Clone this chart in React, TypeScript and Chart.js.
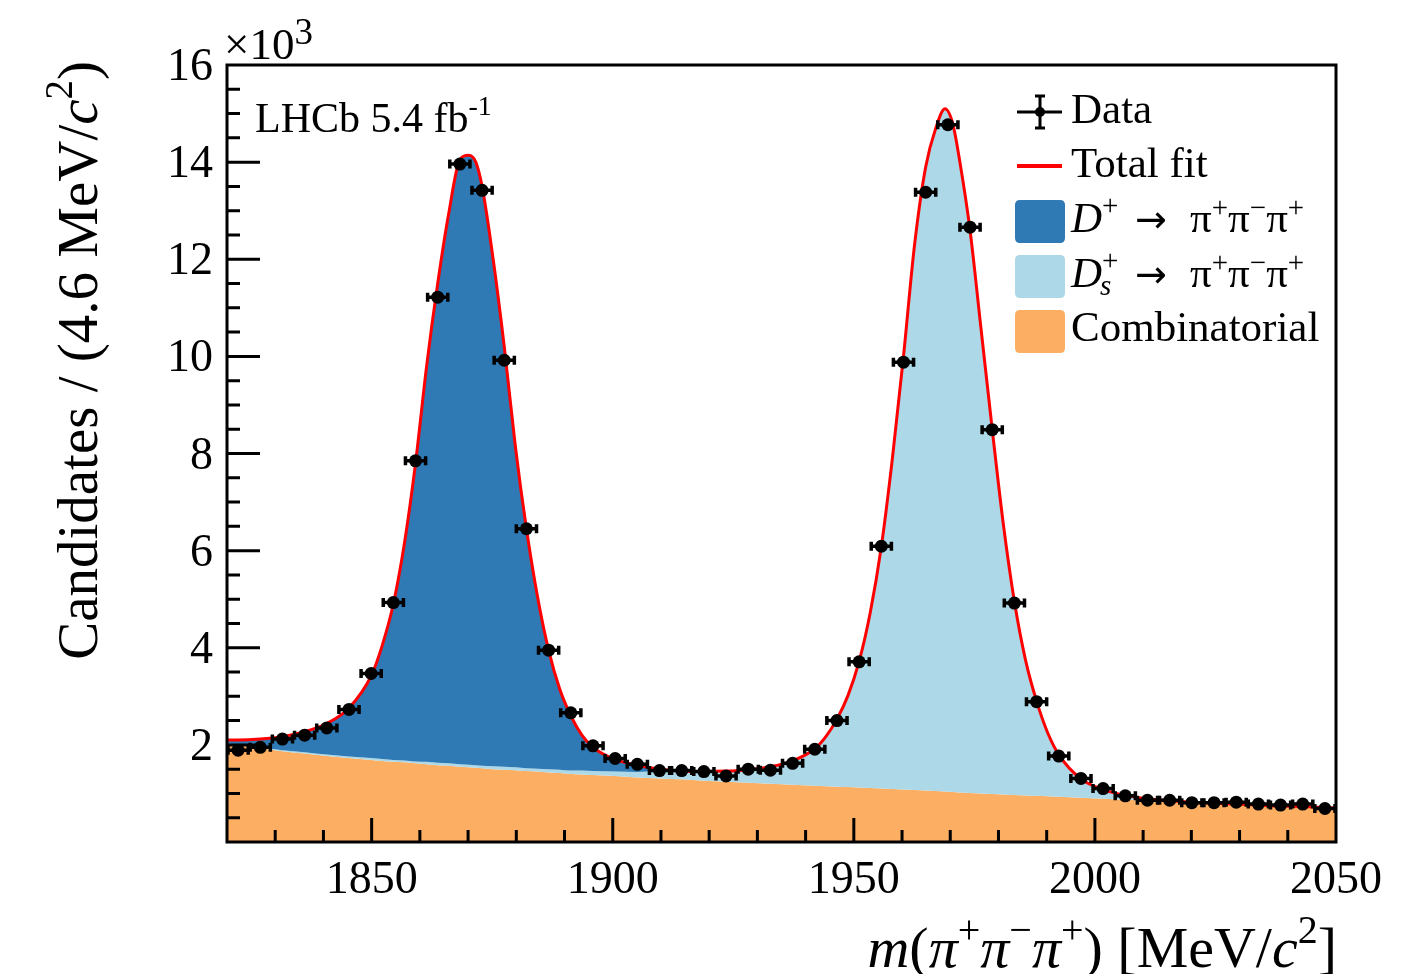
import React, { useEffect, useRef } from "react";
import { Chart, registerables } from "chart.js";

Chart.register(...registerables);

// Histogram bins of m(π+π−π+), 4.6 MeV/c² wide, from 1820 to 2050 MeV/c²
const binWidth = 4.6;
const binCenters = [
  1822.3, 1826.9, 1831.5, 1836.1, 1840.7, 1845.3, 1849.9, 1854.5, 1859.1, 1863.7,
  1868.3, 1872.9, 1877.5, 1882.1, 1886.7, 1891.3, 1895.9, 1900.5, 1905.1, 1909.7,
  1914.3, 1918.9, 1923.5, 1928.1, 1932.7, 1937.3, 1941.9, 1946.5, 1951.1, 1955.7,
  1960.3, 1964.9, 1969.5, 1974.1, 1978.7, 1983.3, 1987.9, 1992.5, 1997.1, 2001.7,
  2006.3, 2010.9, 2015.5, 2020.1, 2024.7, 2029.3, 2033.9, 2038.5, 2043.1, 2047.7,
];
// Candidates per bin, in units of 10^3
const candidates = [
  1.89, 1.95, 2.12, 2.2, 2.35, 2.73, 3.47, 4.93, 7.85, 11.22,
  13.96, 13.42, 9.92, 6.45, 3.95, 2.66, 1.98, 1.72, 1.6, 1.47,
  1.47, 1.45, 1.36, 1.5, 1.48, 1.62, 1.91, 2.5, 3.71, 6.09,
  9.88, 13.38, 14.77, 12.66, 8.49, 4.92, 2.89, 1.77, 1.31, 1.1,
  0.95, 0.86, 0.86, 0.81, 0.81, 0.82, 0.78, 0.76, 0.78, 0.69,
];

// Fit curves sampled along the mass axis (units of 10^3 per bin)
const fitMass = [
  1820.0, 1822.3, 1826.9, 1831.5, 1836.1, 1840.7, 1845.3, 1849.9, 1852.2, 1854.5,
  1856.8, 1859.1, 1861.4, 1863.7, 1866.0, 1868.3, 1870.1, 1871.6, 1872.9, 1875.2,
  1877.5, 1879.8, 1882.1, 1884.4, 1886.7, 1889.0, 1891.3, 1893.6, 1895.9, 1900.5,
  1905.1, 1909.7, 1914.3, 1918.9, 1923.5, 1928.1, 1932.7, 1937.3, 1941.9, 1944.2,
  1946.5, 1948.8, 1951.1, 1953.4, 1955.7, 1958.0, 1960.3, 1962.6, 1964.9, 1967.0,
  1968.9, 1970.5, 1972.0, 1974.1, 1976.4, 1978.7, 1981.0, 1983.3, 1985.6, 1987.9,
  1990.2, 1992.5, 1997.1, 2001.7, 2006.3, 2010.9, 2015.5, 2020.1, 2024.7, 2029.3,
  2033.9, 2038.5, 2043.1, 2047.7, 2050.0,
];
const fitTotal = [
  2.1, 2.1, 2.12, 2.17, 2.27, 2.44, 2.76, 3.42, 4.05, 4.9,
  6.15, 7.8, 9.8, 11.5, 12.95, 14.05, 14.14, 14.0, 13.5, 12.0,
  10.2, 8.15, 6.45, 5.05, 3.95, 3.15, 2.6, 2.2, 1.95, 1.7,
  1.58, 1.5, 1.46, 1.45, 1.46, 1.49, 1.55, 1.67, 1.92, 2.17,
  2.53, 3.02, 3.72, 4.72, 6.08, 7.9, 10.0, 12.3, 13.9, 14.7,
  15.1, 14.8, 14.0, 12.6, 10.55, 8.5, 6.55, 4.95, 3.75, 2.9,
  2.25, 1.8, 1.3, 1.08, 0.96, 0.89, 0.85, 0.82, 0.8, 0.78,
  0.76, 0.74, 0.73, 0.71, 0.7,
];
const fitCombinatorial = [
  2.02, 1.99, 1.93, 1.87, 1.82, 1.77, 1.73, 1.69, 1.67, 1.65,
  1.64, 1.62, 1.6, 1.58, 1.57, 1.55, 1.54, 1.53, 1.52, 1.5,
  1.49, 1.48, 1.46, 1.45, 1.43, 1.42, 1.4, 1.39, 1.38, 1.36,
  1.33, 1.31, 1.29, 1.26, 1.24, 1.22, 1.2, 1.18, 1.16, 1.15,
  1.14, 1.13, 1.12, 1.11, 1.1, 1.09, 1.08, 1.07, 1.06, 1.05,
  1.04, 1.03, 1.02, 1.01, 1.0, 0.99, 0.98, 0.97, 0.96, 0.95,
  0.94, 0.93, 0.91, 0.89, 0.87, 0.85, 0.83, 0.81, 0.79, 0.77,
  0.75, 0.73, 0.72, 0.7, 0.69,
];
const fitDs = [
  0.01, 0.01, 0.02, 0.02, 0.03, 0.03, 0.03, 0.04, 0.04, 0.04,
  0.04, 0.04, 0.05, 0.05, 0.05, 0.05, 0.05, 0.05, 0.05, 0.06,
  0.06, 0.06, 0.06, 0.06, 0.07, 0.07, 0.07, 0.08, 0.08, 0.09,
  0.11, 0.15, 0.17, 0.19, 0.22, 0.27, 0.35, 0.49, 0.76, 1.02,
  1.39, 1.89, 2.6, 3.61, 4.98, 6.81, 8.92, 11.23, 12.84, 13.65,
  14.06, 13.77, 12.98, 11.59, 9.55, 7.51, 5.57, 3.98, 2.79, 1.95,
  1.31, 0.87, 0.39, 0.19, 0.09, 0.04, 0.02, 0.01, 0.01, 0.01,
  0.01, 0.01, 0.01, 0.01, 0.01,
];

const xTickLabels = ["1850", "1900", "1950", "2000", "2050"];
const yTickLabels = ["2", "4", "6", "8", "10", "12", "14", "16"];

const X_MIN = 1820;
const X_MAX = 2050;
const Y_MAX = 16;

const SERIF = '"Liberation Serif", "Times New Roman", serif';
const ARROW_FONT = '"DejaVu Sans", sans-serif';
const COLOR_DPLUS = "#2f7ab5";
const COLOR_DS = "#acd8e7";
const COLOR_COMB = "#fcae62";
const COLOR_FIT = "#ff0000";

type Run = { t: string; size: number; italic?: boolean; dy?: number; dx?: number; family?: string };

function fontOf(r: Run) {
  return `${r.italic ? "italic " : ""}${r.size}px ${r.family ?? SERIF}`;
}

function runsWidth(ctx: CanvasRenderingContext2D, runs: Run[]) {
  let w = 0;
  for (const r of runs) {
    ctx.font = fontOf(r);
    w += (r.dx ?? 0) + ctx.measureText(r.t).width;
  }
  return w;
}

function drawRuns(ctx: CanvasRenderingContext2D, x: number, y: number, runs: Run[]) {
  let cx = x;
  for (const r of runs) {
    ctx.font = fontOf(r);
    cx += r.dx ?? 0;
    ctx.fillText(r.t, cx, y + (r.dy ?? 0));
    cx += ctx.measureText(r.t).width;
  }
  return cx;
}

function roundedBox(ctx: CanvasRenderingContext2D, x: number, y: number, w: number, h: number, r: number, color: string) {
  ctx.beginPath();
  ctx.moveTo(x + r, y);
  ctx.lineTo(x + w - r, y);
  ctx.quadraticCurveTo(x + w, y, x + w, y + r);
  ctx.lineTo(x + w, y + h - r);
  ctx.quadraticCurveTo(x + w, y + h, x + w - r, y + h);
  ctx.lineTo(x + r, y + h);
  ctx.quadraticCurveTo(x, y + h, x, y + h - r);
  ctx.lineTo(x, y + r);
  ctx.quadraticCurveTo(x, y, x + r, y);
  ctx.closePath();
  ctx.fillStyle = color;
  ctx.fill();
}

// Horizontal bin-width bars with end caps on each data point
const errorBarPlugin = {
  id: "binErrorBars",
  afterDatasetsDraw(chart: any) {
    const ctx: CanvasRenderingContext2D = chart.ctx;
    const xs = chart.scales.x;
    const ys = chart.scales.y;
    ctx.save();
    ctx.strokeStyle = "#000";
    ctx.lineWidth = 3.5;
    binCenters.forEach((c, i) => {
      const x1 = xs.getPixelForValue(c - binWidth / 2);
      const x2 = xs.getPixelForValue(c + binWidth / 2);
      const y = ys.getPixelForValue(candidates[i]);
      ctx.beginPath();
      ctx.moveTo(x1, y);
      ctx.lineTo(x2, y);
      ctx.moveTo(x1 + 1, y - 4.5);
      ctx.lineTo(x1 + 1, y + 4.5);
      ctx.moveTo(x2 - 1, y - 4.5);
      ctx.lineTo(x2 - 1, y + 4.5);
      ctx.stroke();
    });
    ctx.restore();
  },
};

// Frame, inward ticks, labels, titles and legend
const decorationPlugin = {
  id: "frameAndText",
  afterDraw(chart: any) {
    const ctx: CanvasRenderingContext2D = chart.ctx;
    const { left, right, top, bottom } = chart.chartArea;
    const xs = chart.scales.x;
    const ys = chart.scales.y;
    ctx.save();
    ctx.fillStyle = "#000";
    ctx.strokeStyle = "#000";

    // ticks
    ctx.lineWidth = 3;
    ctx.beginPath();
    for (let m = 1830; m < X_MAX; m += 10) {
      const x = xs.getPixelForValue(m);
      const major = m % 50 === 0;
      ctx.moveTo(x, bottom);
      ctx.lineTo(x, bottom - (major ? 24 : 12));
    }
    for (let k = 1; k < Y_MAX * 2; k++) {
      const v = k / 2;
      const y = ys.getPixelForValue(v);
      const major = k % 4 === 0;
      ctx.moveTo(left, y);
      ctx.lineTo(left + (major ? 33 : 13), y);
    }
    ctx.stroke();

    // frame
    ctx.lineWidth = 3;
    ctx.strokeRect(left, top, right - left, bottom - top);

    // tick labels
    ctx.font = `46px ${SERIF}`;
    ctx.textAlign = "right";
    ctx.textBaseline = "alphabetic";
    yTickLabels.forEach((lab) => {
      const y = ys.getPixelForValue(Number(lab));
      ctx.fillText(lab, left - 14, y + 15);
    });
    ctx.textAlign = "center";
    xTickLabels.forEach((lab) => {
      const x = xs.getPixelForValue(Number(lab));
      ctx.fillText(lab, x, bottom + 51);
    });
    ctx.textAlign = "left";

    // exponent
    drawRuns(ctx, left - 3, top - 6, [
      { t: "×10", size: 45 },
      { t: "3", size: 37, dy: -15 },
    ]);

    // y-axis title
    const yTitle: Run[] = [
      { t: "Candidates / (4.6 MeV/", size: 57 },
      { t: "c", size: 57, italic: true },
      { t: "2", size: 39, dy: -25 },
      { t: ")", size: 57 },
    ];
    const yw = runsWidth(ctx, yTitle);
    ctx.save();
    ctx.translate(97, top - 4 + yw);
    ctx.rotate(-Math.PI / 2);
    drawRuns(ctx, 0, 0, yTitle);
    ctx.restore();

    // x-axis title
    const xTitle: Run[] = [
      { t: "m", size: 58, italic: true },
      { t: "(", size: 58 },
      { t: "π", size: 58, italic: true },
      { t: "+", size: 40, dy: -24 },
      { t: "π", size: 58, italic: true },
      { t: "−", size: 40, dy: -24 },
      { t: "π", size: 58, italic: true },
      { t: "+", size: 40, dy: -24 },
      { t: ") [MeV/", size: 58 },
      { t: "c", size: 58, italic: true },
      { t: "2", size: 40, dy: -24 },
      { t: "]", size: 58 },
    ];
    const xw = runsWidth(ctx, xTitle);
    drawRuns(ctx, right + 1 - xw, bottom + 125, xTitle);

    // experiment label
    drawRuns(ctx, 255, 132, [
      { t: "LHCb 5.4 fb", size: 42 },
      { t: "-1", size: 28, dy: -17 },
    ]);

    // legend
    const lx = 1071;
    // Data marker
    ctx.lineWidth = 3;
    ctx.beginPath();
    ctx.moveTo(1017, 112);
    ctx.lineTo(1062, 112);
    ctx.moveTo(1040, 96);
    ctx.lineTo(1040, 128);
    ctx.moveTo(1035, 96);
    ctx.lineTo(1045, 96);
    ctx.moveTo(1035, 128);
    ctx.lineTo(1045, 128);
    ctx.stroke();
    ctx.beginPath();
    ctx.arc(1040, 112, 5, 0, Math.PI * 2);
    ctx.fill();
    drawRuns(ctx, lx, 123, [{ t: "Data", size: 43 }]);

    // Total fit
    ctx.strokeStyle = COLOR_FIT;
    ctx.lineWidth = 4;
    ctx.beginPath();
    ctx.moveTo(1017, 166);
    ctx.lineTo(1062, 166);
    ctx.stroke();
    drawRuns(ctx, lx, 177, [{ t: "Total fit", size: 43 }]);

    const pionRuns: Run[] = [
      { t: "π", size: 43 },
      { t: "+", size: 29, dy: -15 },
      { t: "π", size: 43 },
      { t: "−", size: 29, dy: -15 },
      { t: "π", size: 43 },
      { t: "+", size: 29, dy: -15 },
    ];
    const arrow: Run[] = [{ t: "→", size: 38, family: ARROW_FONT }];

    // D+
    roundedBox(ctx, 1015, 200, 50, 43, 5, COLOR_DPLUS);
    ctx.fillStyle = "#000";
    drawRuns(ctx, lx, 232, [
      { t: "D", size: 43, italic: true },
      { t: "+", size: 29, dy: -17 },
    ]);
    drawRuns(ctx, 1135, 232, arrow);
    drawRuns(ctx, 1190, 232, pionRuns);

    // Ds+
    roundedBox(ctx, 1015, 255, 50, 43, 5, COLOR_DS);
    ctx.fillStyle = "#000";
    const dEnd = drawRuns(ctx, lx, 287, [{ t: "D", size: 43, italic: true }]);
    drawRuns(ctx, dEnd, 287, [{ t: "+", size: 29, dy: -17 }]);
    drawRuns(ctx, dEnd - 2, 287, [{ t: "s", size: 29, italic: true, dy: 8 }]);
    drawRuns(ctx, 1135, 287, arrow);
    drawRuns(ctx, 1190, 287, pionRuns);

    // Combinatorial
    roundedBox(ctx, 1015, 310, 50, 43, 5, COLOR_COMB);
    ctx.fillStyle = "#000";
    drawRuns(ctx, lx, 341, [{ t: "Combinatorial", size: 43 }]);

    ctx.restore();
  },
};

export default function App() {
  const canvasRef = useRef<HTMLCanvasElement | null>(null);

  useEffect(() => {
    const canvas = canvasRef.current;
    if (!canvas) return;

    const dataPoints = binCenters.map((x, i) => ({ x, y: candidates[i] }));
    const totalLine = fitMass.map((x, i) => ({ x, y: fitTotal[i] }));
    const dsTopLine = fitMass.map((x, i) => ({ x, y: fitCombinatorial[i] + fitDs[i] }));
    const combLine = fitMass.map((x, i) => ({ x, y: fitCombinatorial[i] }));

    const chart = new Chart(canvas, {
      type: "line",
      data: {
        datasets: [
          {
            label: "Data",
            data: dataPoints,
            showLine: false,
            pointRadius: 6.5,
            pointBackgroundColor: "#000",
            pointBorderWidth: 0,
            borderColor: "#000",
            clip: false,
          },
          {
            label: "Total fit",
            data: totalLine,
            borderColor: COLOR_FIT,
            borderWidth: 3,
            pointRadius: 0,
            cubicInterpolationMode: "monotone",
            backgroundColor: COLOR_DPLUS,
            fill: { target: 2, above: COLOR_DPLUS, below: COLOR_DPLUS },
          },
          {
            label: "Ds",
            data: dsTopLine,
            borderColor: "rgba(0,0,0,0)",
            borderWidth: 1,
            pointRadius: 0,
            cubicInterpolationMode: "monotone",
            backgroundColor: COLOR_DS,
            fill: { target: 3, above: COLOR_DS, below: COLOR_DS },
          },
          {
            label: "Combinatorial",
            data: combLine,
            borderColor: "rgba(0,0,0,0)",
            borderWidth: 1,
            pointRadius: 0,
            cubicInterpolationMode: "monotone",
            backgroundColor: COLOR_COMB,
            fill: "origin",
          },
        ],
      },
      options: {
        animation: false,
        responsive: false,
        devicePixelRatio: 1,
        layout: { padding: { left: 227, top: 65, right: 68, bottom: 132 } },
        plugins: {
          legend: { display: false },
          tooltip: { enabled: false },
        },
        scales: {
          x: { type: "linear", min: X_MIN, max: X_MAX, display: false },
          y: { type: "linear", min: 0, max: Y_MAX, display: false },
        },
      },
      plugins: [errorBarPlugin, decorationPlugin],
    } as any);

    return () => chart.destroy();
  }, []);

  return (
    <div style={{ position: "fixed", left: 0, top: 0, width: 1404, height: 974, background: "#fff" }}>
      <canvas ref={canvasRef} width={1404} height={974} style={{ display: "block", width: 1404, height: 974 }} />
    </div>
  );
}
